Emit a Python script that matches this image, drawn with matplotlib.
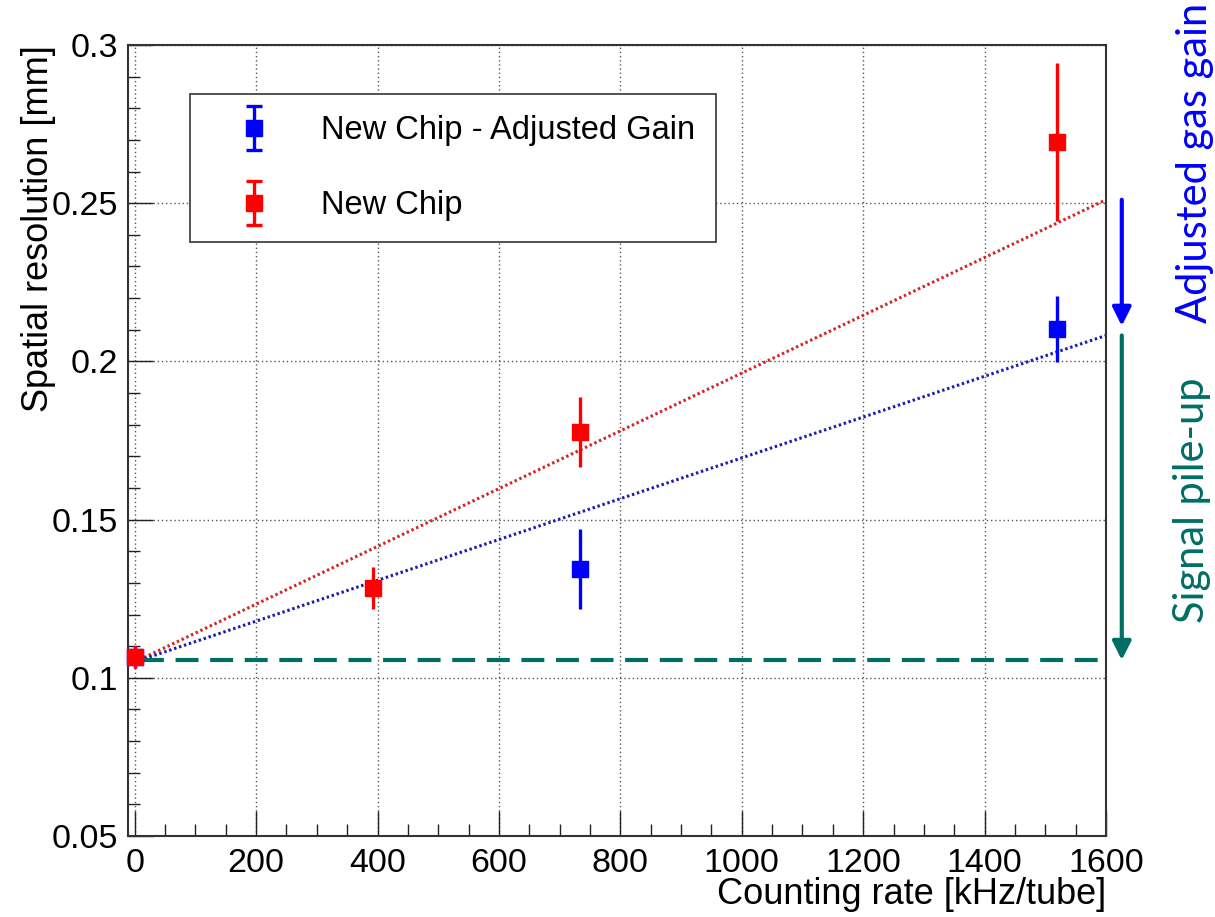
import numpy as np
import matplotlib
matplotlib.use('Agg')
import matplotlib.pyplot as plt
from matplotlib.ticker import MultipleLocator
from matplotlib.legend_handler import HandlerErrorbar

# measured points: counting rate [kHz/tube] vs spatial resolution [mm]
rate_adj = [0, 733, 1519]
res_adj = [0.1066, 0.1344, 0.2102]
err_adj = [0.0036, 0.0125, 0.0104]

rate_new = [0, 392, 733, 1519]
res_new = [0.1066, 0.1284, 0.1777, 0.2693]
err_new = [0.0036, 0.0065, 0.0110, 0.0250]

# linear fits (intercept, slope per kHz)
fit_intercept = 0.105
fit_slope_new = 9.13e-5
fit_slope_adj = 6.45e-5
baseline = 0.1056

label_adj = 'New Chip - Adjusted Gain'
label_new = 'New Chip'

plt.rcParams['font.family'] = ['Liberation Sans', 'DejaVu Sans']

W, H = 1215, 917
fig = plt.figure(figsize=(W / 100, H / 100), dpi=100)
ax = fig.add_axes([128 / W, 1 - 836 / H, (1106 - 128) / W, (836 - 45) / H])

blue = '#0000ff'
red = '#ff0000'
teal = '#006e64'

# fit lines
xf = np.array([0, 1600])
ax.plot(xf, fit_intercept + fit_slope_new * xf, color='#d42525', lw=2.2,
        ls=(0, (0.8, 0.9)), zorder=3)
ax.plot(xf, fit_intercept + fit_slope_adj * xf, color='#1c1cb0', lw=2.2,
        ls=(0, (0.8, 0.9)), zorder=3)

# baseline resolution
ax.plot([10, 1590], [baseline, baseline], color=teal, lw=3, ls=(0, (5.5, 2.8)), zorder=3)

ms = 11
ax.errorbar(rate_adj, res_adj, yerr=err_adj, fmt='s', color=blue, ms=ms,
            elinewidth=2.4, capsize=0, zorder=4, clip_on=False)
ax.errorbar(rate_new, res_new, yerr=err_new, fmt='s', color=red, ms=ms,
            elinewidth=2.4, capsize=0, zorder=5, clip_on=False)

# legend handles with caps
h_adj = ax.errorbar([np.nan], [np.nan], yerr=[0.01], fmt='s', color=blue, ms=ms,
                    elinewidth=2.4, capsize=6, capthick=2.4)
h_new = ax.errorbar([np.nan], [np.nan], yerr=[0.01], fmt='s', color=red, ms=ms,
                    elinewidth=2.4, capsize=6, capthick=2.4)
leg = ax.legend([h_adj, h_new], [label_adj, label_new], loc='upper left',
                bbox_to_anchor=(190 / W, 1 - 94 / H), bbox_transform=fig.transFigure,
                borderaxespad=0, fontsize=23.5, frameon=True, fancybox=False,
                edgecolor='#444444', framealpha=1, borderpad=0.65,
                handlelength=2.6, handletextpad=0.75, labelspacing=1.35,
                handler_map={type(h_adj): HandlerErrorbar(yerr_size=0.68)})
leg.get_frame().set_linewidth(1.3)

ax.set_xlim(-11, 1600)
ax.set_ylim(0.05, 0.3)
ax.xaxis.set_major_locator(MultipleLocator(200))
ax.xaxis.set_minor_locator(MultipleLocator(50))
ax.yaxis.set_major_locator(MultipleLocator(0.05))
ax.yaxis.set_minor_locator(MultipleLocator(0.01))
ax.set_yticks([0.05, 0.1, 0.15, 0.2, 0.25, 0.3])
ax.set_yticklabels(['0.05', '0.1', '0.15', '0.2', '0.25', '0.3'])

ax.tick_params(which='both', direction='in', top=False, right=False,
               labelsize=24.5, width=1, color='#222222')
ax.tick_params(which='major', length=18, pad=7)
ax.tick_params(axis='x', which='major', pad=9)
ax.tick_params(which='minor', length=8.5)
ax.grid(which='major', color='#555555', lw=1, ls=(0, (1, 2)))
for s in ax.spines.values():
    s.set_color('#333333')
    s.set_linewidth(1.5)

ax.set_xlabel('Counting rate [kHz/tube]', fontsize=26, loc='right')
ax.xaxis.set_label_coords(1.0, (836 - 877) / 791)
ax.set_ylabel('Spatial resolution [mm]', fontsize=26, loc='top')
ax.yaxis.set_label_coords((56 - 128) / 978, 1.0)

# arrows to the right of the frame
xa = 1626
ax.annotate('', xy=(xa, fit_intercept + fit_slope_adj * 1600 + 0.003),
            xytext=(xa, fit_intercept + fit_slope_new * 1600),
            arrowprops=dict(arrowstyle='-|>', color=blue, lw=3, mutation_scale=28,
                            shrinkA=0, shrinkB=0),
            annotation_clip=False)
ax.annotate('', xy=(xa, baseline),
            xytext=(xa, fit_intercept + fit_slope_adj * 1600),
            arrowprops=dict(arrowstyle='-|>', color=teal, lw=3, mutation_scale=28,
                            shrinkA=0, shrinkB=0),
            annotation_clip=False)

fig.text(1195 / W, 1 - 163 / H, 'Adjusted gas gain', rotation=90, color=blue,
         fontsize=30, family='Lato', ha='center', va='center')
fig.text(1192 / W, 1 - 500 / H, 'Signal pile-up', rotation=90, color=teal,
         fontsize=30, family='Lato', ha='center', va='center')

fig.savefig('out.png', dpi=100)
